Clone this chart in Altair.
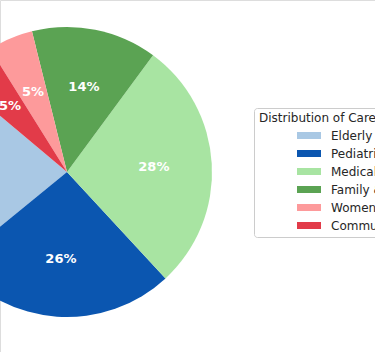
import altair as alt
import pandas as pd
import math

categories = ["Elderly Care", "Pediatric Care", "Medical Assistance",
              "Family & Home Care", "Women's Health", "Community Support"]
values = [22, 26, 28, 14, 5, 5]
colors = ["#a9c8e4", "#0b56b0", "#a8e4a2", "#5ba353", "#fd9a9b", "#e23b49"]
# clockwise drawing order (matplotlib draws counter-clockwise from 140 deg)
draw_order = [6, 5, 4, 3, 2, 1]

df = pd.DataFrame({
    "category": categories,
    "value": values,
    "ord": draw_order,
})
df["label"] = [f"{v}%" for v in values]

start = math.radians(90 - 140)
theta_scale = alt.Scale(domain=[0, sum(values)], range=[start, start + 2 * math.pi])

cx, cy, r = 67, 172, 145

base = alt.Chart(df).encode(
    theta=alt.Theta("value:Q", stack=True, scale=theta_scale),
    order=alt.Order("ord:Q"),
)

arcs = base.mark_arc(outerRadius=r, strokeWidth=0).encode(
    x=alt.value(cx),
    y=alt.value(cy),
    color=alt.Color(
        "category:N",
        scale=alt.Scale(domain=categories, range=colors),
        sort=categories,
        legend=alt.Legend(
            title="Distribution of Care Types",
            orient="none",
            legendX=254,
            legendY=108,
            padding=5,
            strokeColor="#cccccc",
            cornerRadius=3,
            fillColor="white",
            titleFont="DejaVu Sans",
            titleFontSize=12,
            titleFontWeight="normal",
            titleColor="#262626",
            titlePadding=-1.5,
            labelFont="DejaVu Sans",
            labelFontSize=12,
            labelColor="#262626",
            labelOffset=10,
            symbolType="M-1,-0.29L1,-0.29L1,0.29L-1,0.29Z",
            symbolSize=576,
            symbolStrokeWidth=0,
            symbolOpacity=1,
            symbolOffset=38,
            rowPadding=0,
            labelLimit=300,
        ),
    ),
)

labels = base.mark_text(
    radius=87, font="DejaVu Sans", fontSize=13, fontWeight="bold",
    color="#ffffff", align="center", baseline="middle",
).encode(
    x=alt.value(cx),
    y=alt.value(cy),
    text="label:N",
)

chart = alt.layer(arcs, labels).properties(
    width=375, height=352, padding=0, autosize="none",
).configure_view(strokeWidth=0, stroke="transparent").configure(background="white")

chart.save("out.html", embed_options={"renderer": "svg", "actions": False})
